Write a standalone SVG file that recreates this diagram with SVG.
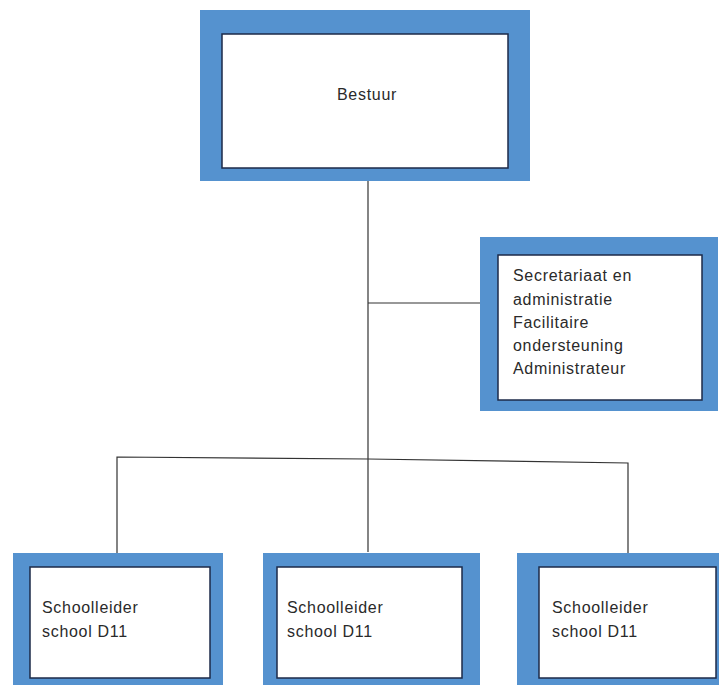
<svg xmlns="http://www.w3.org/2000/svg" width="719" height="685" viewBox="0 0 719 685">
<style>
.outer{fill:#5592cf}
.inner{fill:#ffffff;stroke:#1c2a48;stroke-width:1.5}
.t{font-family:"Liberation Sans",Arial,sans-serif;font-size:16px;letter-spacing:0.7px;fill:#2a2a2a}
.c{fill:none;stroke:#333;stroke-width:1.2}
</style>
<rect width="719" height="685" fill="#ffffff"/>
<g id="connectors">
<path class="c" d="M368 180 V552"/>
<path class="c" d="M368 303 H481"/>
<path class="c" d="M117 554 V457 L368 459 L628 463 V554"/>
</g>
<g id="bestuur">
<rect class="outer" x="200" y="10" width="330" height="171"/>
<rect class="inner" x="222" y="34" width="286" height="134"/>
<text class="t" x="337" y="100">Bestuur</text>
</g>
<g id="secretariaat">
<rect class="outer" x="480" y="237" width="238" height="174"/>
<rect class="inner" x="498" y="255" width="204" height="145"/>
<text class="t" x="513" y="281">Secretariaat en</text>
<text class="t" x="513" y="305">administratie</text>
<text class="t" x="513" y="328">Facilitaire</text>
<text class="t" x="513" y="351">ondersteuning</text>
<text class="t" x="513" y="374">Administrateur</text>
</g>
<g id="school1">
<rect class="outer" x="13" y="553" width="210" height="140"/>
<rect class="inner" x="30" y="567" width="180" height="111"/>
<text class="t" x="42" y="613">Schoolleider</text>
<text class="t" x="42" y="637">school D11</text>
</g>
<g id="school2">
<rect class="outer" x="263" y="553" width="217" height="140"/>
<rect class="inner" x="277" y="567" width="185" height="111"/>
<text class="t" x="287" y="613">Schoolleider</text>
<text class="t" x="287" y="637">school D11</text>
</g>
<g id="school3">
<rect class="outer" x="517" y="553" width="210" height="140"/>
<rect class="inner" x="539" y="567" width="177" height="111"/>
<text class="t" x="552" y="613">Schoolleider</text>
<text class="t" x="552" y="637">school D11</text>
</g>
</svg>
